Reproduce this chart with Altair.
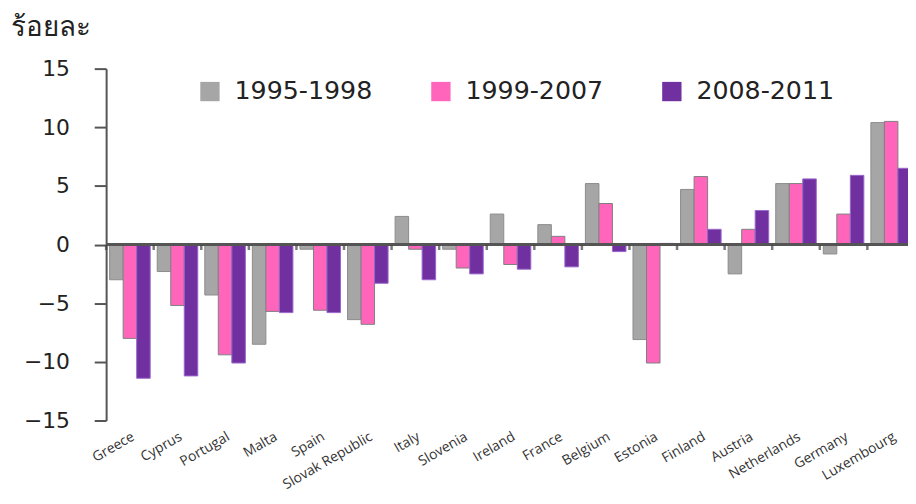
import altair as alt
import pandas as pd

categories = ["Greece", "Cyprus", "Portugal", "Malta", "Spain", "Slovak Republic",
              "Italy", "Slovenia", "Ireland", "France", "Belgium", "Estonia",
              "Finland", "Austria", "Netherlands", "Germany", "Luxembourg"]
periods = ["1995-1998", "1999-2007", "2008-2011"]
v1995 = [-3.0, -2.3, -4.3, -8.5, -0.4, -6.4, 2.4, -0.4, 2.6, 1.7, 5.2, -8.1, 4.7, -2.5, 5.2, -0.8, 10.4]
v1999 = [-8.0, -5.2, -9.4, -5.7, -5.6, -6.8, -0.4, -2.0, -1.7, 0.7, 3.5, -10.1, 5.8, 1.3, 5.2, 2.6, 10.5]
v2008 = [-11.4, -11.2, -10.1, -5.8, -5.8, -3.3, -3.0, -2.5, -2.1, -1.9, -0.6, 0.1, 1.3, 2.9, 5.6, 5.9, 6.5]
y_ticks = [-15, -10, -5, 0, 5, 10, 15]
colors = ["#A6A6A6", "#FF66BB", "#7030A0"]
strokes = ["#8c8c8c", "#7f7f7f", "#9a66cc"]

rows = []
for series, vals in zip(periods, [v1995, v1999, v2008]):
    for c, v in zip(categories, vals):
        rows.append({"country": c, "period": series, "value": v})
df = pd.DataFrame(rows)
cat_df = pd.DataFrame({"country": categories})

xscale = alt.Scale(domain=categories, paddingInner=0, paddingOuter=0, range=[0, 816])
yscale = alt.Scale(domain=[-15, 15], nice=False)

yaxis = alt.Axis(values=y_ticks, title="ร้อยละ", titleAngle=0, titleX=-96, titleY=-41,
                 titleAlign="left", titleBaseline="middle", titleFontSize=28,
                 titleFontWeight="normal", titleColor="#222222",
                 grid=False, tickSize=12, tickWidth=2, tickColor="#555555",
                 domainColor="#555555", domainWidth=2, labelFontSize=22,
                 labelPadding=25, labelColor="#222222", labelFont="DejaVu Sans")
xaxis = alt.Axis(orient="bottom", title=None, ticks=False, domain=False, grid=False,
                 labelAngle=330, labelPadding=9, labelFontSize=14,
                 labelColor="#333333", labelFont="Open Sans", labelAlign="right",
                 labelBaseline="top")

bars = alt.Chart(df).mark_bar(strokeWidth=1).encode(
    x=alt.X("country:N", sort=categories, scale=xscale, axis=xaxis),
    xOffset=alt.XOffset("period:N", sort=periods,
                        scale=alt.Scale(paddingInner=0, paddingOuter=0.26)),
    y=alt.Y("value:Q", scale=yscale, axis=yaxis),
    color=alt.Color("period:N", sort=periods,
                    scale=alt.Scale(domain=periods, range=colors),
                    legend=alt.Legend(title=None, orient="none", legendX=92, legendY=10,
                                      direction="horizontal", symbolType="square",
                                      symbolSize=380, labelFontSize=25.5, labelFont="DejaVu Sans",
                                      labelColor="#222222", columnPadding=56, labelOffset=12,
                                      symbolStrokeWidth=0)),
    stroke=alt.Stroke("period:N", sort=periods,
                      scale=alt.Scale(domain=periods, range=strokes), legend=None),
)

zero_line = alt.Chart(cat_df).mark_rule(color="#555555", strokeWidth=2).encode(
    y=alt.YDatum(0, type="quantitative", scale=yscale, axis=yaxis)
)

boundary_ticks = alt.Chart(cat_df).mark_tick(
    orient="vertical", size=5, thickness=2.5, color="#404040", yOffset=3
).encode(
    x=alt.X("country:N", sort=categories, scale=xscale, bandPosition=0, axis=xaxis),
    y=alt.YDatum(0, type="quantitative", scale=yscale, axis=yaxis),
)

chart = alt.layer(bars, zero_line, boundary_ticks).properties(
    width=809, height=355,
    autosize=alt.AutoSizeParams(type="none"),
    padding={"left": 99, "top": 59, "right": 0, "bottom": 74},
    view=alt.ViewBackground(stroke="transparent", strokeWidth=0, strokeOpacity=0),
).configure_view(strokeWidth=0, stroke="transparent", strokeOpacity=0).configure_axis(
    grid=False
).configure(font="DejaVu Sans")

chart.save("out.html", embed_options={"renderer": "svg", "actions": False})
